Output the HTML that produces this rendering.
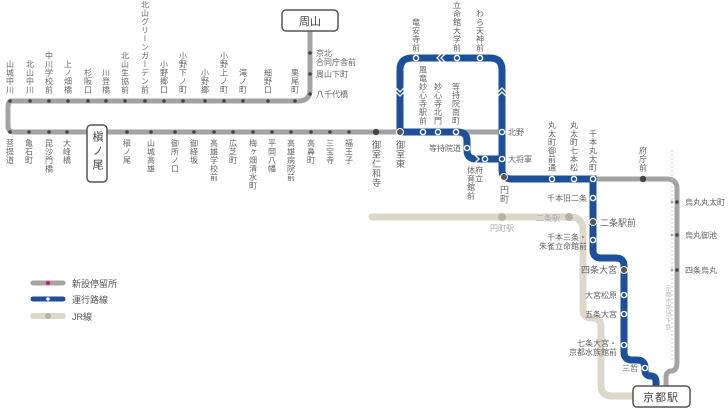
<!DOCTYPE html>
<html><head><meta charset="utf-8"><style>
html,body{margin:0;padding:0;background:#fff;}
svg{display:block;font-family:"Liberation Sans","Noto Sans CJK JP",sans-serif;}
.v{writing-mode:vertical-rl;font-size:8px;fill:#666;letter-spacing:0.5px;}
.h{font-size:8px;fill:#666;}
</style></head><body>
<svg width="728" height="412" viewBox="0 0 728 412" xmlns="http://www.w3.org/2000/svg">
<!-- JR line -->
<path d="M372 217 H570 Q583 217 583 230 V310 Q583 318 592 318 Q601 318 601 327 V385 Q601 396 612 396 H636" fill="none" stroke="#ddd8c8" stroke-width="7" stroke-linecap="round"/>
<circle cx="502" cy="217" r="4" fill="#b8b2a4"/>
<circle cx="569" cy="217" r="4" fill="#b8b2a4"/>
<text class="h" x="490" y="231" style="fill:#aaa">円町駅</text>
<text class="h" x="536" y="221" style="fill:#aaa">二条駅</text>
<!-- gray lines -->
<path d="M300 101 H12 Q8 101 8 107 V126 Q8 132 14 132 H400" fill="none" stroke="#a3a3a3" stroke-width="5"/>
<path d="M298 101 Q310 101 310 90 V30" fill="none" stroke="#a3a3a3" stroke-width="5"/>
<path d="M456 132 H502" stroke="#a3a3a3" stroke-width="5"/>
<path d="M593 179 H667 Q677 179 677 189 V362 Q677 371 671 371 Q666 371 666 378 V388" fill="none" stroke="#a3a3a3" stroke-width="5"/>
<line x1="672" y1="150" x2="672" y2="360" stroke="#ccc" stroke-width="1" stroke-dasharray="2,2"/>
<text class="v" x="667" y="285" style="fill:#bbb;font-size:6px">京都市営地下鉄</text>
<!-- blue lines -->
<g fill="none" stroke="#1b4fa0" stroke-width="7">
<path d="M400 132 V70 Q400 58 412 58 H490 Q502 58 502 70 V170 Q502 179 512 179 H593 V250 Q593 258 601 258 H616 Q624 258 624 266 V352 Q624 360 632 360 H637 Q645 360 645 368 V370 Q645 376 651 376 Q656 376 656 382 V388"/>
<path d="M400 132 H458 Q467 132 467 141 V150 Q467 159 476 159 H502"/>
</g>
<!-- arrows -->
<g fill="none" stroke="#fff" stroke-width="1.3">
<path d="M441 54 L437 58 L441 62 M445 54 L441 58 L445 62"/>
<path d="M396 88 L400 92 L404 88 M396 92 L400 96 L404 92"/>
<path d="M498 96 L502 92 L506 96 M498 92 L502 88 L506 92"/>
<path d="M475 155 L479 159 L475 163"/>
</g>
<!-- blue stations -->
<g fill="none" stroke="#fff" stroke-width="1.4">
<circle cx="416" cy="58" r="2.6"/><circle cx="457" cy="58" r="2.6"/><circle cx="480" cy="58" r="2.6"/>
<circle cx="423" cy="132" r="2.6"/><circle cx="438" cy="132" r="2.6"/><circle cx="456" cy="132" r="2.6"/>
<circle cx="467" cy="148" r="2.6"/><circle cx="485" cy="159" r="2.6"/>
<circle cx="502" cy="132" r="2.6"/><circle cx="502" cy="159" r="2.6"/>
<circle cx="552" cy="179" r="2.6"/><circle cx="574" cy="179" r="2.6"/><circle cx="593" cy="179" r="2.6"/>
<circle cx="593" cy="198" r="2.6"/><circle cx="593" cy="240" r="2.6"/>
<circle cx="624" cy="295" r="2.6"/><circle cx="624" cy="314" r="2.6"/><circle cx="624" cy="345" r="2.6"/>
<circle cx="645" cy="368" r="2.6"/>
</g>
<circle cx="400" cy="132" r="3.5" fill="#555" stroke="#fff" stroke-width="1"/>
<circle cx="504" cy="177" r="3.5" fill="#555" stroke="#fff" stroke-width="1"/>
<circle cx="593" cy="222" r="3.5" fill="#555" stroke="#fff" stroke-width="1"/>
<circle cx="624" cy="270" r="3.5" fill="#555" stroke="#fff" stroke-width="1"/>
<!-- gray dots -->
<g fill="#444">
<circle cx="10" cy="101" r="1.8"/><circle cx="30" cy="101" r="1.8"/><circle cx="49" cy="101" r="1.8"/><circle cx="68" cy="101" r="1.8"/><circle cx="88" cy="101" r="1.8"/><circle cx="106" cy="101" r="1.8"/><circle cx="125" cy="101" r="1.8"/><circle cx="145" cy="101" r="1.8"/><circle cx="164" cy="101" r="1.8"/><circle cx="183" cy="101" r="1.8"/><circle cx="205" cy="101" r="1.8"/><circle cx="224" cy="101" r="1.8"/><circle cx="243" cy="101" r="1.8"/><circle cx="268" cy="101" r="1.8"/><circle cx="295" cy="101" r="1.8"/>
<circle cx="310" cy="53" r="1.8"/><circle cx="310" cy="74" r="1.8"/><circle cx="310" cy="94" r="1.8"/>
<circle cx="10" cy="132" r="1.8"/><circle cx="29" cy="132" r="1.8"/><circle cx="49" cy="132" r="1.8"/><circle cx="67" cy="132" r="1.8"/><circle cx="127" cy="132" r="1.8"/><circle cx="151" cy="132" r="1.8"/><circle cx="175" cy="132" r="1.8"/><circle cx="194" cy="132" r="1.8"/><circle cx="214" cy="132" r="1.8"/><circle cx="233" cy="132" r="1.8"/><circle cx="253" cy="132" r="1.8"/><circle cx="272" cy="132" r="1.8"/><circle cx="291" cy="132" r="1.8"/><circle cx="311" cy="132" r="1.8"/><circle cx="330" cy="132" r="1.8"/><circle cx="349" cy="132" r="1.8"/>
<circle cx="376" cy="132" r="3.2"/><circle cx="643" cy="179" r="3.2"/>
<circle cx="677" cy="202" r="1.8"/><circle cx="677" cy="235" r="1.8"/><circle cx="677" cy="270" r="1.8"/>
</g>
<g fill="#aaa"><circle cx="672" cy="202" r="1.5"/><circle cx="672" cy="235" r="1.5"/><circle cx="672" cy="270" r="1.5"/></g>
<!-- boxes -->
<rect x="282" y="10" width="56" height="21" rx="4" fill="#fff" stroke="#555" stroke-width="1.5"/>
<text x="310" y="25" text-anchor="middle" style="font-size:11px;fill:#444">周山</text>
<rect x="87" y="125" width="20" height="57" rx="4" fill="#fff" stroke="#555" stroke-width="1.5"/>
<text x="97" y="131" style="writing-mode:vertical-rl;font-size:11px;fill:#444;letter-spacing:3px">槇ノ尾</text>
<rect x="633" y="386" width="57" height="21" rx="4" fill="#fff" stroke="#555" stroke-width="1.5"/>
<text x="661" y="401" text-anchor="middle" style="font-size:11px;fill:#444;letter-spacing:1px">京都駅</text>
<!-- top labels -->
<g class="v" text-anchor="end">
<text x="10" y="94">山城中川</text><text x="30" y="94">北山中川</text><text x="49" y="94">中川学校前</text><text x="68" y="94">上ノ畑橋</text><text x="88" y="94">杉阪口</text><text x="106" y="94">川登橋</text><text x="125" y="94">北山生協前</text><text x="145" y="94">北山グリーンガーデン前</text><text x="164" y="94">小野郷口</text><text x="183" y="94">小野下ノ町</text><text x="205" y="94">小野郷</text><text x="224" y="94">小野上ノ町</text><text x="243" y="94">滝ノ町</text><text x="268" y="94">細野口</text><text x="295" y="94">栗尾町</text>
<text x="416" y="52">竜安寺前</text><text x="457" y="52">立命館大学前</text><text x="480" y="52">わら天神前</text>
<text x="423" y="125">風竜妙心寺駅前</text><text x="438" y="125">妙心寺北門</text><text x="456" y="125">等持院南町</text>
<text x="552" y="172">丸太町御前通</text><text x="574" y="172">丸太町七本松</text><text x="593" y="172">千本丸太町</text><text x="643" y="172">府庁前</text>
</g>
<!-- bottom labels -->
<g class="v">
<text x="10" y="139">菩提道</text><text x="29" y="139">亀石町</text><text x="49" y="139">昆沙門橋</text><text x="67" y="139">大峰橋</text><text x="127" y="139">槇ノ尾</text><text x="151" y="139">山城高雄</text><text x="175" y="139">御所ノ口</text><text x="194" y="139">御経坂</text><text x="214" y="139">高雄学校前</text><text x="233" y="139">広芝町</text><text x="253" y="139">梅ヶ畑清水町</text><text x="272" y="139">平岡八幡</text><text x="291" y="139">高雄病院前</text><text x="311" y="139">高鼻町</text><text x="330" y="139">三宝寺</text><text x="349" y="139">福王子</text>
<text x="376" y="140" style="font-size:9px">御室仁和寺</text><text x="400" y="140" style="font-size:9px">御室東</text>
<text x="479" y="166">府立</text><text x="471" y="166">体育館前</text>
<text x="504" y="185" style="font-size:9px">円町</text>
</g>
<!-- horizontal labels -->
<g class="h">
<text x="316" y="56">京北</text><text x="316" y="65">合同庁舎前</text><text x="316" y="77">周山下町</text><text x="316" y="97">八千代橋</text>
<text x="429" y="151">等持院道</text>
<text x="508" y="135">北野</text><text x="508" y="162">大将軍</text>
<text x="587" y="201" text-anchor="end">千本旧二条</text>
<text x="600" y="226" style="font-size:9px">二条駅前</text>
<text x="587" y="240" text-anchor="end">千本三条・</text><text x="587" y="249" text-anchor="end">朱雀立命館前</text>
<text x="617" y="273" text-anchor="end" style="font-size:9px">四条大宮</text>
<text x="617" y="298" text-anchor="end">大宮松原</text><text x="617" y="317" text-anchor="end">五条大宮</text>
<text x="617" y="346" text-anchor="end">七条大宮・</text><text x="617" y="355" text-anchor="end">京都水族館前</text>
<text x="638" y="371" text-anchor="end">三哲</text>
<text x="685" y="205">烏丸丸太町</text><text x="685" y="238">烏丸御池</text><text x="685" y="273">四条烏丸</text>
</g>
<!-- legend -->
<line x1="33" y1="283" x2="63" y2="283" stroke="#a3a3a3" stroke-width="5" stroke-linecap="round"/><circle cx="48" cy="283" r="2.2" fill="#d0187a"/>
<line x1="33" y1="299" x2="63" y2="299" stroke="#1b4fa0" stroke-width="5" stroke-linecap="round"/><circle cx="48" cy="299" r="1.8" fill="#fff"/>
<line x1="33" y1="316" x2="63" y2="316" stroke="#ddd8c8" stroke-width="6" stroke-linecap="round"/><circle cx="48" cy="316" r="3" fill="#b8b2a4"/>
<g style="font-size:9px;fill:#555"><text x="72" y="287">新設停留所</text><text x="72" y="303">運行路線</text><text x="72" y="320">JR線</text></g>
</svg>
</body></html>
